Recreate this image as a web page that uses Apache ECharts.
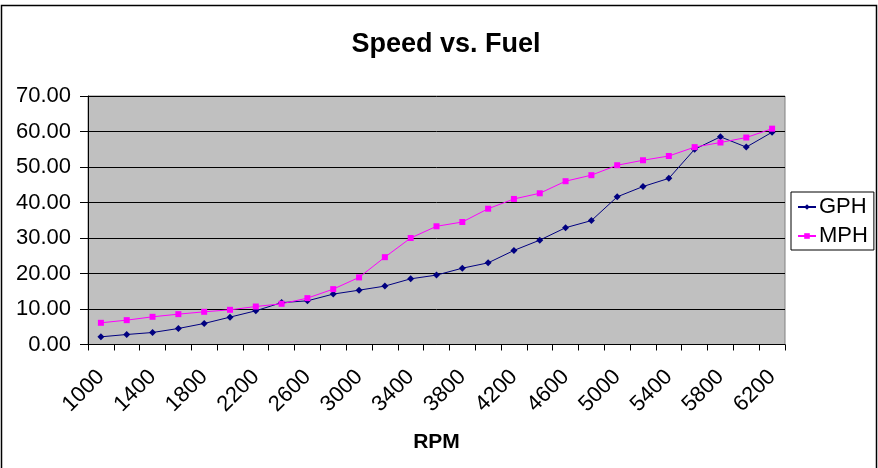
<!DOCTYPE html>
<html>
<head>
<meta charset="utf-8">
<script src="https://cdn.jsdelivr.net/npm/echarts@6/dist/echarts.min.js"></script>
<style>
html,body{margin:0;padding:0;background:#fff;}
#c{width:878px;height:468px;}
</style>
</head>
<body>
<div id="c"></div>
<script>
const rpm = [1000,1200,1400,1600,1800,2000,2200,2400,2600,2800,3000,3200,3400,3600,3800,4000,4200,4400,4600,4800,5000,5200,5400,5600,5800,6000,6200];
const gph = [2.16,2.82,3.38,4.51,5.92,7.71,9.49,11.8,12.3,14.2,15.3,16.45,18.5,19.55,21.5,23.0,26.5,29.4,32.9,34.9,41.6,44.5,46.8,55.0,58.5,55.6,59.8];
const mph = [6.11,6.86,7.80,8.55,9.21,9.77,10.7,11.47,13.06,15.6,18.9,24.6,30.0,33.3,34.5,38.25,41.0,42.6,46.0,47.7,50.5,51.9,53.1,55.6,56.9,58.3,60.8];
const yTicks = {min:0, max:70, interval:10};

const chart = echarts.init(document.getElementById('c'));
const F = 'Liberation Sans, Arial, sans-serif';
chart.setOption({
  animation:false,
  backgroundColor:'#fff',
  title:{text:'Speed vs. Fuel', left:441, top:26, textAlign:'center',
    textStyle:{fontFamily:F, fontWeight:'bold', fontSize:27, color:'#000'}},
  graphic:[{type:'rect', shape:{x:1.5,y:5.5,width:875,height:470},
    style:{fill:'none', stroke:'#000', lineWidth:1.5}, silent:true}],
  grid:{left:88, right:93, top:96, bottom:123.5, show:true, backgroundColor:'#C0C0C0', borderColor:'#808080', borderWidth:1},
  legend:{orient:'vertical', left:791, top:192, padding:[3,6,2,6], itemGap:5,
    itemWidth:18, itemHeight:7,
    backgroundColor:'#fff', borderColor:'#000', borderWidth:1,
    textStyle:{fontFamily:F, fontSize:22, color:'#000', lineHeight:24, padding:[0,0,0,-2]},
    data:['GPH','MPH']},
  xAxis:{type:'category', data:rpm, boundaryGap:true,
    name:'RPM', nameLocation:'middle', nameGap:87,
    nameTextStyle:{fontFamily:F, fontWeight:'bold', fontSize:21, color:'#000'},
    axisLine:{lineStyle:{color:'#000', width:1}},
    axisTick:{show:true, interval:0, length:6, lineStyle:{color:'#000'}},
    axisLabel:{interval:1, rotate:45, margin:29, fontFamily:F, fontSize:22, color:'#000'},
    splitLine:{show:false}},
  yAxis:{type:'value', min:yTicks.min, max:yTicks.max, interval:yTicks.interval,
    axisLine:{show:true, lineStyle:{color:'#000'}},
    axisTick:{show:true, length:8, lineStyle:{color:'#000'}},
    axisLabel:{margin:17, fontFamily:F, fontSize:22, color:'#000', formatter:v=>v.toFixed(2)},
    splitLine:{show:true, lineStyle:{color:'#000', width:1}}},
  series:[
    {name:'GPH', type:'line', data:gph, symbol:'diamond', symbolSize:7,
      lineStyle:{color:'#000080', width:1}, itemStyle:{color:'#000080'}},
    {name:'MPH', type:'line', data:mph, symbol:'rect', symbolSize:6,
      lineStyle:{color:'#FF00FF', width:1}, itemStyle:{color:'#FF00FF'}}
  ]
});
</script>
</body>
</html>
